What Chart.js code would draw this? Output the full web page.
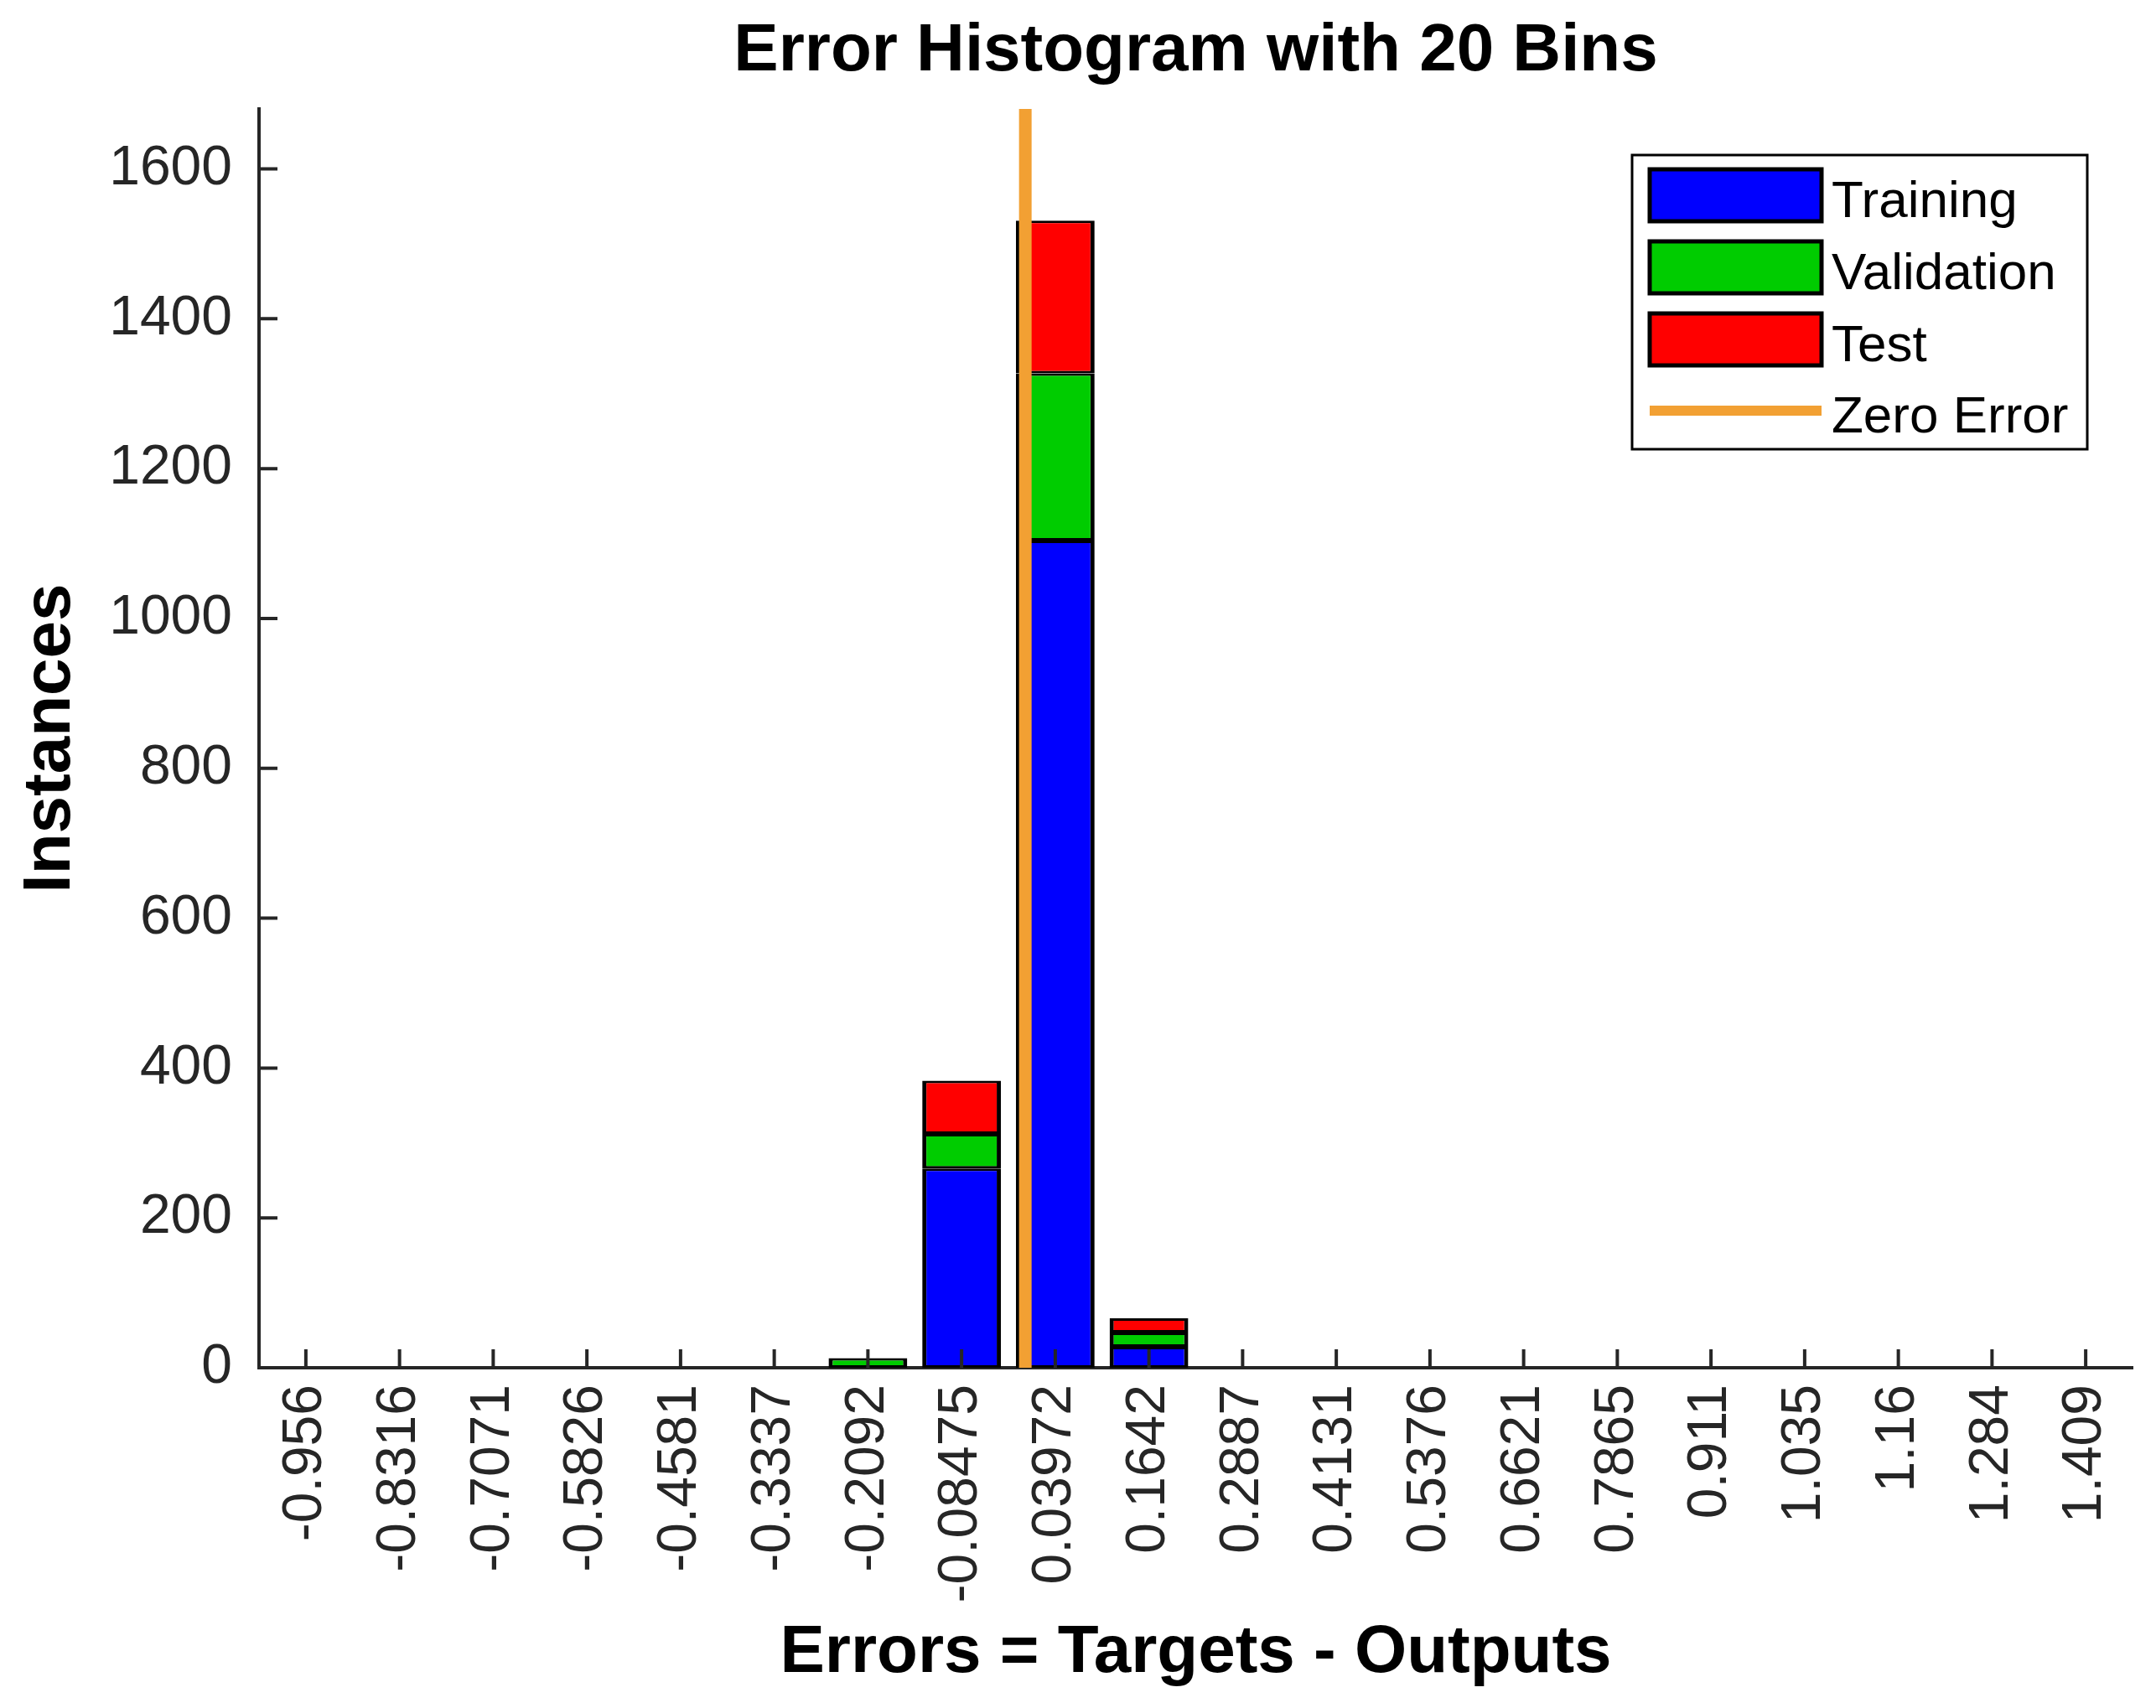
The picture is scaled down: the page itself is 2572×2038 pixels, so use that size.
<!DOCTYPE html>
<html>
<head>
<meta charset="utf-8">
<title>Error Histogram with 20 Bins</title>
<script src="https://cdn.jsdelivr.net/npm/chart.js@4.4.1/dist/chart.umd.min.js"></script>
<style>
  html, body { margin: 0; padding: 0; background: #fff; }
  #wrap { width: 2572px; height: 2038px; position: relative; }
</style>
</head>
<body>
<div id="wrap"><canvas id="errHist"></canvas></div>
<script>
// bin centres (tick labels) and instance counts per bin
const binLabels = ['-0.956', '-0.8316', '-0.7071', '-0.5826', '-0.4581', '-0.3337', '-0.2092', '-0.08475',
  '0.03972', '0.1642', '0.2887', '0.4131', '0.5376', '0.6621', '0.7865', '0.911', '1.035', '1.16', '1.284', '1.409'];
const training   = [0, 0, 0, 0, 0, 0, 0, 266, 1104, 28, 0, 0, 0, 0, 0, 0, 0, 0, 0, 0];
const validation = [0, 0, 0, 0, 0, 0, 13, 46, 223, 19, 0, 0, 0, 0, 0, 0, 0, 0, 0, 0];
const test       = [0, 0, 0, 0, 0, 0, 0, 71, 204, 19, 0, 0, 0, 0, 0, 0, 0, 0, 0, 0];
const zeroError  = 0;
const yMax = 1680;

const FONT = "'Liberation Sans', Arial, sans-serif";

// bin width so the hidden linear axis lines up with the category axis
const first = parseFloat(binLabels[0]);
const last = parseFloat(binLabels[binLabels.length - 1]);
const binW = (last - first) / (binLabels.length - 1);

// MATLAB style ticks pointing into the plot
const inwardTicks = {
  id: 'inwardTicks',
  afterDatasetsDraw(chart) {
    const { ctx, chartArea, scales: { x, y } } = chart;
    ctx.save();
    ctx.strokeStyle = '#262626';
    ctx.lineWidth = 4;
    ctx.beginPath();
    x.ticks.forEach((t, i) => {
      const px = x.getPixelForTick(i);
      ctx.moveTo(px, chartArea.bottom);
      ctx.lineTo(px, chartArea.bottom - 22);
    });
    y.ticks.forEach((t, i) => {
      const py = y.getPixelForTick(i);
      ctx.moveTo(chartArea.left, py);
      ctx.lineTo(chartArea.left + 22, py);
    });
    ctx.stroke();
    ctx.restore();
  }
};

// boxed legend inside the plot, top right
const boxLegend = {
  id: 'boxLegend',
  afterDraw(chart) {
    const { ctx, chartArea } = chart;
    const left = chartArea.right - 597;
    const top = chartArea.top + 55;
    const w = 543, h = 351;
    ctx.save();
    ctx.fillStyle = '#fff';
    ctx.fillRect(left, top, w, h);
    ctx.strokeStyle = '#000';
    ctx.lineWidth = 3;
    ctx.strokeRect(left, top, w, h);

    const rows = [48, 134, 220, 305];
    const items = chart.data.datasets;
    ctx.font = '62px ' + FONT;
    ctx.textBaseline = 'middle';
    ctx.textAlign = 'left';
    items.forEach((ds, i) => {
      const cy = top + rows[i];
      if (ds.type === 'line') {
        ctx.strokeStyle = ds.borderColor;
        ctx.lineWidth = 12;
        ctx.beginPath();
        ctx.moveTo(left + 21, cy);
        ctx.lineTo(left + 226, cy);
        ctx.stroke();
      } else {
        ctx.fillStyle = ds.backgroundColor;
        ctx.fillRect(left + 21, cy - 31, 205, 62);
        ctx.strokeStyle = '#000';
        ctx.lineWidth = 5;
        ctx.strokeRect(left + 21, cy - 31, 205, 62);
      }
      ctx.fillStyle = '#000';
      ctx.fillText(ds.label, left + 238, cy + 9);
    });
    ctx.restore();
  }
};

const barStyle = {
  borderColor: '#000',
  borderWidth: { top: 3, bottom: 3, left: 5, right: 5 },
  borderSkipped: false,
  barPercentage: 0.84,
  categoryPercentage: 1,
  grouped: false,
  order: 1
};

new Chart(document.getElementById('errHist'), {
  type: 'bar',
  data: {
    labels: binLabels,
    datasets: [
      { label: 'Training', data: training, backgroundColor: '#0000FF', ...barStyle },
      { label: 'Validation', data: validation, backgroundColor: '#00CC00', ...barStyle },
      { label: 'Test', data: test, backgroundColor: '#FF0000', ...barStyle },
      {
        type: 'line',
        label: 'Zero Error',
        data: [{ x: zeroError, y: 0 }, { x: zeroError, y: yMax }],
        xAxisID: 'xz',
        stack: 'zero',
        borderColor: '#F2A033',
        borderWidth: 15,
        pointRadius: 0,
        fill: false,
        order: 0
      }
    ]
  },
  options: {
    responsive: true,
    maintainAspectRatio: false,
    animation: false,
    layout: { padding: { left: 0, right: 28, top: 0, bottom: 0 } },
    plugins: {
      legend: { display: false },
      title: { display: false },
      tooltip: { enabled: false }
    },
    scales: {
      x: {
        type: 'category',
        stacked: true,
        offset: true,
        grid: { display: false, drawTicks: false },
        border: { display: true, color: '#262626', width: 4 },
        ticks: {
          autoSkip: false,
          minRotation: 90,
          maxRotation: 90,
          padding: 20,
          color: '#262626',
          font: { family: FONT, size: 66 }
        },
        title: {
          display: true,
          text: 'Errors = Targets - Outputs',
          color: '#000',
          font: { family: FONT, size: 80, weight: 'bold' },
          padding: { top: 0, bottom: 17 }
        },
        afterFit(scale) {
          scale.height = 406;
          scale.paddingLeft = 0;
          scale.paddingRight = 0;
        }
      },
      xz: {
        type: 'linear',
        position: 'top',
        offset: false,
        min: first - binW / 2,
        max: last + binW / 2,
        grid: { display: false, drawTicks: false, offset: false },
        border: { display: false },
        ticks: { display: false },
        title: {
          display: true,
          text: 'Error Histogram with 20 Bins',
          color: '#000',
          font: { family: FONT, size: 80, weight: 'bold' },
          padding: { top: 14, bottom: 0 }
        },
        afterFit(scale) {
          scale.height = 130;
          scale.paddingLeft = 0;
          scale.paddingRight = 0;
        }
      },
      y: {
        stacked: true,
        min: 0,
        max: yMax,
        grid: { display: false, drawTicks: false },
        border: { display: true, color: '#262626', width: 4 },
        ticks: {
          stepSize: 200,
          includeBounds: false,
          padding: 32,
          color: '#262626',
          font: { family: FONT, size: 66 },
          format: { useGrouping: false }
        },
        title: {
          display: true,
          text: 'Instances',
          color: '#000',
          font: { family: FONT, size: 80, weight: 'bold' },
          padding: { top: 13, bottom: 0 }
        },
        afterFit(scale) { scale.width = 309; }
      }
    }
  },
  plugins: [inwardTicks, boxLegend]
});
</script>
</body>
</html>
